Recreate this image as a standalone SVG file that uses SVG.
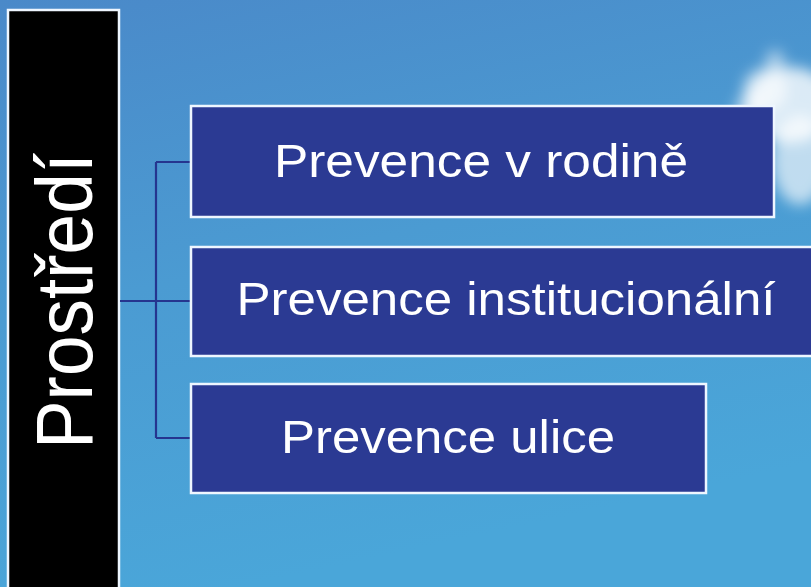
<svg xmlns="http://www.w3.org/2000/svg" width="811" height="587" viewBox="0 0 811 587">
  <defs>
    <linearGradient id="sky" x1="0" y1="0" x2="0.3" y2="1">
      <stop offset="0" stop-color="#4a89c9"/>
      <stop offset="0.5" stop-color="#4b9bd2"/>
      <stop offset="1" stop-color="#4aa6d9"/>
    </linearGradient>
    <filter id="blur" x="-50%" y="-50%" width="200%" height="200%">
      <feGaussianBlur stdDeviation="7"/>
    </filter>
    <style>
      .box { fill: #2b3a93; stroke: #eef6ff; stroke-width: 2.5; }
      .lbl { font-family: "Liberation Sans", Arial, sans-serif; font-size: 47px; fill: #ffffff; text-anchor: middle; }
      .conn { fill: none; stroke: #25358f; stroke-width: 2.2; }
    </style>
  </defs>
  <rect x="0" y="0" width="811" height="587" fill="url(#sky)"/>
  <g id="cloud" filter="url(#blur)" fill="#ffffff">
    <ellipse cx="790" cy="105" rx="45" ry="38" opacity="0.8"/>
    <ellipse cx="765" cy="90" rx="22" ry="22" opacity="0.6"/>
    <ellipse cx="800" cy="160" rx="28" ry="45" opacity="0.65"/>
    <ellipse cx="775" cy="62" rx="10" ry="12" opacity="0.5"/>
    <ellipse cx="748" cy="110" rx="14" ry="16" opacity="0.45"/>
  </g>
  <g id="prostredi">
    <rect x="8" y="10" width="111" height="590" fill="#000000" stroke="#eef6ff" stroke-width="2.5"/>
    <text class="lbl" style="font-size:73px" transform="translate(92,301) scale(1.085,1) rotate(-90)" x="0" y="0">Prostředí</text>
  </g>
  <g id="connectors">
    <path class="conn" d="M120,301 H191 M156,162 V438 M156,162 H191 M156,438 H191"/>
  </g>
  <g id="node-rodina">
    <rect class="box" x="191" y="106" width="583" height="111"/>
    <text class="lbl" x="481" y="177" textLength="414" lengthAdjust="spacingAndGlyphs">Prevence v rodině</text>
  </g>
  <g id="node-institucionalni">
    <rect class="box" x="191" y="247" width="640" height="109"/>
    <text class="lbl" x="506" y="315" textLength="539" lengthAdjust="spacingAndGlyphs">Prevence institucionální</text>
  </g>
  <g id="node-ulice">
    <rect class="box" x="191" y="384" width="515" height="109"/>
    <text class="lbl" x="448" y="453" textLength="334" lengthAdjust="spacingAndGlyphs">Prevence ulice</text>
  </g>
</svg>
